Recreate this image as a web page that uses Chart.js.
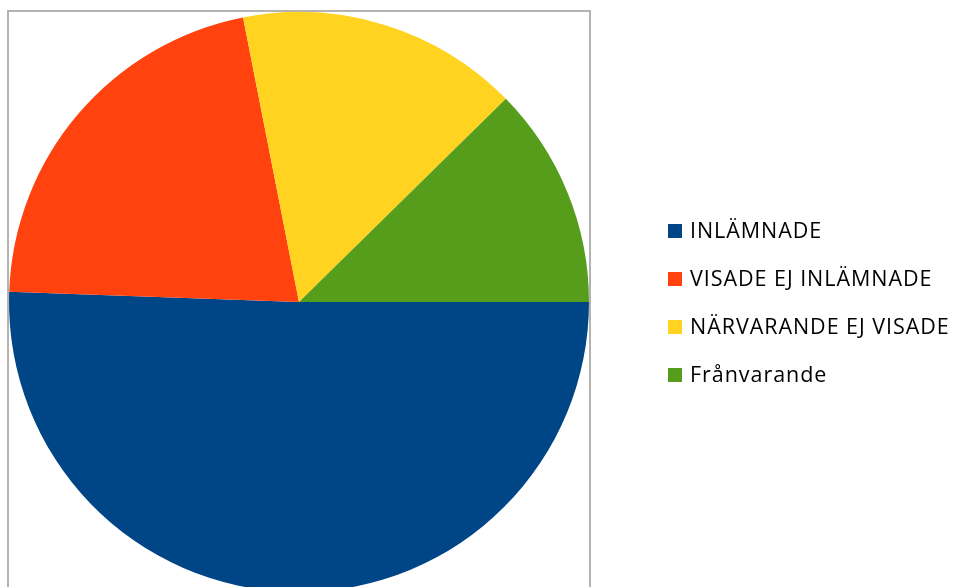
<!DOCTYPE html>
<html>
<head>
<meta charset="utf-8">
<script src="https://cdn.jsdelivr.net/npm/chart.js@4"></script>
<style>
  html, body { margin: 0; padding: 0; background: #fff; overflow: hidden; }
  #wrap { position: relative; width: 957px; height: 587px; overflow: hidden; }
  #pie { position: absolute; left: 0; top: 0; }
  #legend { position: absolute; left: 668px; top: 215px; font-family: "Open Sans", Lato, sans-serif; font-size: 21.5px; letter-spacing: 0.95px; color: #000; }
  .item { height: 48px; display: flex; align-items: flex-start; white-space: nowrap; }
  .box { width: 14px; height: 14px; margin-top: 9px; margin-right: 8px; flex: none; }
</style>
</head>
<body>
<div id="wrap">
  <canvas id="pie" width="957" height="600"></canvas>
  <div id="legend"></div>
</div>
<script>
const labels = ['INLÄMNADE', 'VISADE EJ INLÄMNADE', 'NÄRVARANDE EJ VISADE', 'Frånvarande'];
const counts = [45, 19, 14, 11];
const colors = ['#004586', '#ff420e', '#ffd320', '#579d1c'];

// ram runt ritytan
const frame = {
  id: 'frame',
  beforeDraw(chart) {
    const a = chart.chartArea;
    const ctx = chart.ctx;
    ctx.save();
    ctx.strokeStyle = '#b3b3b3';
    ctx.lineWidth = 2;
    ctx.strokeRect(a.left - 1, a.top - 1, a.right - a.left + 2, a.bottom - a.top + 20);
    ctx.restore();
  }
};

new Chart(document.getElementById('pie'), {
  type: 'pie',
  data: {
    labels: labels,
    datasets: [{
      data: counts,
      backgroundColor: colors,
      borderWidth: 0
    }]
  },
  options: {
    responsive: false,
    animation: false,
    rotation: 90,
    layout: { padding: { left: 9, top: 12, right: 368, bottom: 8 } },
    plugins: {
      legend: { display: false },
      tooltip: { enabled: false }
    }
  },
  plugins: [frame]
});

const legend = document.getElementById('legend');
labels.forEach((l, i) => {
  const row = document.createElement('div');
  row.className = 'item';
  row.innerHTML = '<span class="box" style="background:' + colors[i] + '"></span><span>' + l + '</span>';
  legend.appendChild(row);
});
</script>
</body>
</html>
